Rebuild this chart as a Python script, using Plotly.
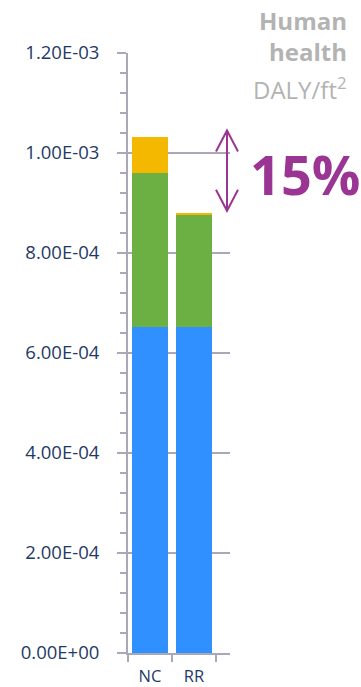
import plotly.graph_objects as go

# Stacked contributions (DALY per ft²) for the two cases
categories = ["NC", "RR"]
blue_vals = [6.53e-4, 6.53e-4]
green_vals = [3.08e-4, 2.23e-4]
yellow_vals = [7.1e-5, 2.5e-6]

y_tick_vals = [0, 2e-4, 4e-4, 6e-4, 8e-4, 1.0e-3, 1.2e-3]
y_tick_text = ["0.00E+00", "2.00E-04", "4.00E-04", "6.00E-04",
               "8.00E-04", "1.00E-03", "1.20E-03"]
reduction_text = "15%"
panel_title = "<b>Human</b><br><b>health</b>"
panel_unit = "DALY/ft<sup>2</sup>"

W, H = 361, 687
ML, MR, MT, MB = 128, 131, 53, 34
X_RANGE = [-0.5, 1.818]
Y_RANGE = [0, 1.2e-3]

AXIS_GRAY = "#A8A8B8"
LABEL_NAVY = "#1F3A66"
TITLE_GRAY = "#B3B3B3"
PURPLE = "#9B3593"

x_pos = list(range(len(categories)))
totals = [b + g + y for b, g, y in zip(blue_vals, green_vals, yellow_vals)]

fig = go.Figure()
for vals, color in [(blue_vals, "#3090FF"), (green_vals, "#6CB043"), (yellow_vals, "#F5B800")]:
    fig.add_bar(x=x_pos, y=vals, width=0.84, marker=dict(color=color, line=dict(width=0)),
                showlegend=False, hoverinfo="skip")

fig.update_layout(
    width=W, height=H, barmode="stack",
    margin=dict(l=ML, r=MR, t=MT, b=MB, autoexpand=False),
    paper_bgcolor="white", plot_bgcolor="white",
    font=dict(family="Open Sans, sans-serif"),
)
fig.update_xaxes(
    range=X_RANGE, tickvals=x_pos, ticktext=categories, ticks="", automargin=False,
    showline=True, linecolor=AXIS_GRAY, linewidth=2, showgrid=False, zeroline=False,
    tickfont=dict(size=16.5, color=LABEL_NAVY), ticklabelstandoff=7,
    minor=dict(ticks="outside", ticklen=7, tickwidth=1.5, tickcolor=AXIS_GRAY, tick0=-0.5, dtick=1, showgrid=False),
)
fig.update_yaxes(
    range=Y_RANGE, tickvals=y_tick_vals, ticktext=y_tick_text, automargin=False,
    ticks="outside", ticklen=9, tickwidth=1.5, tickcolor=AXIS_GRAY,
    showline=True, linecolor=AXIS_GRAY, linewidth=2,
    showgrid=True, gridcolor=AXIS_GRAY, gridwidth=1.5, zeroline=False,
    tickfont=dict(size=18.5, color=LABEL_NAVY), ticklabelstandoff=14,
    minor=dict(ticks="outside", ticklen=6, tickwidth=1.5, tickcolor=AXIS_GRAY,
               tick0=0, dtick=4e-5, showgrid=False),
)

# Double-headed arrow between the two totals, drawn in paper space so the heads are not clipped
def to_paper_x(x):
    return (x - X_RANGE[0]) / (X_RANGE[1] - X_RANGE[0])

def to_paper_y(y):
    return (y - Y_RANGE[0]) / (Y_RANGE[1] - Y_RANGE[0])

plot_w = W - ML - MR
plot_h = H - MT - MB
arrow_x = to_paper_x(1.75)
arrow_top = to_paper_y(totals[0] + 1.3e-5)
arrow_bot = to_paper_y(totals[1] + 0.6e-5)
head_dx = 11 / plot_w
head_dy = 21 / plot_h
line_style = dict(color=PURPLE, width=2)
fig.add_shape(type="line", xref="paper", yref="paper", x0=arrow_x, x1=arrow_x,
              y0=arrow_bot, y1=arrow_top, line=line_style)
fig.add_shape(type="path", xref="paper", yref="paper", line=line_style,
              path=f"M {arrow_x - head_dx} {arrow_top - head_dy} L {arrow_x} {arrow_top} L {arrow_x + head_dx} {arrow_top - head_dy}")
fig.add_shape(type="path", xref="paper", yref="paper", line=line_style,
              path=f"M {arrow_x - head_dx} {arrow_bot + head_dy} L {arrow_x} {arrow_bot} L {arrow_x + head_dx} {arrow_bot + head_dy}")

# Reduction label
fig.add_annotation(text=f"<b>{reduction_text}</b>", xref="paper", yref="paper",
                   x=(305 - ML) / plot_w, y=(H - MB - 174) / plot_h,
                   xanchor="center", yanchor="middle", showarrow=False,
                   font=dict(size=54, color=PURPLE, family="Open Sans, sans-serif"))

# Panel title and unit, right aligned in the upper corner
fig.add_annotation(text=panel_title, xref="paper", yref="paper",
                   x=(349 - ML) / plot_w, y=(H - MB - 2) / plot_h,
                   xanchor="right", yanchor="top", align="right", showarrow=False,
                   font=dict(size=24, color=TITLE_GRAY, family="Open Sans, sans-serif"))
fig.add_annotation(text=panel_unit, xref="paper", yref="paper",
                   x=(349 - ML) / plot_w, y=(H - MB - 88) / plot_h,
                   xanchor="right", yanchor="middle", align="right", showarrow=False,
                   font=dict(size=24, color=TITLE_GRAY, family="Open Sans, sans-serif"))

fig.write_html("out.html")
